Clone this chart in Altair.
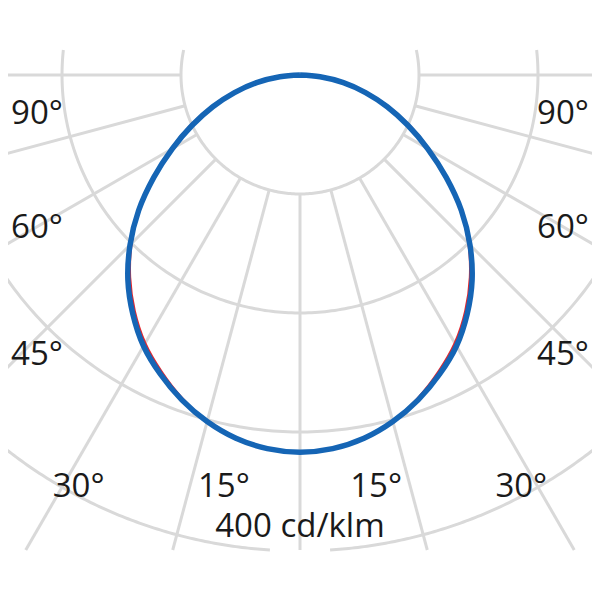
import numpy as np
import pandas as pd
import altair as alt

# ---- data (cd/klm) ----
angles = [0, 5, 10, 15, 20, 25, 30, 35, 40, 45, 50, 55, 60, 65, 70, 75, 80, 85, 90]
c90_270 = [317, 315.2, 310, 301.5, 290.5, 277.5, 263, 245, 225, 202, 177, 150, 124, 100, 78, 57, 37, 17, 0]
c0_180 = [317, 315.2, 310, 301, 289, 275, 260, 242, 222, 200, 176, 151, 126, 103, 81, 60, 39, 18, 0]

ring_values = [100, 200, 300, 400]
spoke_angles = [-90, -75, -60, -45, -30, -15, 0, 15, 30, 45, 60, 75, 90]

label_text = ["90°", "60°", "45°", "30°", "15°", "15°", "30°", "45°", "60°", "90°", "400 cd/klm"]
label_x = [-221, -221, -221, -186, -64, 64, 186, 221, 221, 221, 0]
label_y = [-41, -137, -244, -355, -355, -355, -355, -244, -137, -41, -388]

# ---- geometry helpers ----
Y_TOP = 21.0      # upper clip of the grid
Y_BOT = -399.2    # lower clip of the grid
X_DOM = [-245.4, 245.4]
Y_DOM = [-434.5, 56.3]

rows = []
gid = 0
for r in ring_values:
    tmax = np.degrees(np.arccos(max(-1.0, -Y_TOP / r)))
    tmin = np.degrees(np.arccos(min(1.0, -Y_BOT / r))) if r > -Y_BOT else 0.0
    segs = [(tmin, tmax), (-tmax, -tmin)] if tmin > 0 else [(-tmax, tmax)]
    for a, b in segs:
        ts = np.linspace(a, b, 240)
        for k, t in enumerate(ts):
            rad = np.radians(t)
            rows.append(dict(x=r * np.sin(rad), y=-r * np.cos(rad), g=gid, o=k))
        gid += 1
for t in spoke_angles:
    rad = np.radians(t)
    c = np.cos(rad)
    r_end = min(-Y_BOT / c, 700.0) if c > 1e-9 else 700.0
    for k, r in enumerate([ring_values[0], r_end]):
        rows.append(dict(x=r * np.sin(rad), y=-r * np.cos(rad), g=gid, o=k))
    gid += 1
grid_df = pd.DataFrame(rows)


def curve(values, name):
    pts = []
    full_a = [-a for a in angles[::-1]] + angles[1:]
    full_v = values[::-1] + values[1:]
    for k, (a, v) in enumerate(zip(full_a, full_v)):
        rad = np.radians(a)
        pts.append(dict(x=v * np.sin(rad), y=-v * np.cos(rad), o=k, s=name))
    return pd.DataFrame(pts)


red_df = curve(c0_180, "C0-C180")
blue_df = curve(c90_270, "C90-C270")
lab_df = pd.DataFrame(dict(t=label_text, x=label_x, y=label_y))

xs = alt.Scale(domain=X_DOM, nice=False, zero=False)
ys = alt.Scale(domain=Y_DOM, nice=False, zero=False)

grid = alt.Chart(grid_df).mark_line(clip=True, color="#d9d9d9", strokeWidth=3).encode(
    x=alt.X("x:Q", scale=xs, axis=None),
    y=alt.Y("y:Q", scale=ys, axis=None),
    detail="g:N",
    order="o:Q",
)

red = alt.Chart(red_df).mark_line(
    clip=True, color="#e3262d", strokeWidth=2, interpolate="catmull-rom"
).encode(
    x=alt.X("x:Q", scale=xs, axis=None),
    y=alt.Y("y:Q", scale=ys, axis=None),
    order="o:Q",
)

blue = alt.Chart(blue_df).mark_line(
    clip=True, color="#1565b5", strokeWidth=5.5, interpolate="catmull-rom"
).encode(
    x=alt.X("x:Q", scale=xs, axis=None),
    y=alt.Y("y:Q", scale=ys, axis=None),
    order="o:Q",
)

labels = alt.Chart(lab_df).mark_text(
    font="Open Sans", fontSize=33, color="#1a1a1a", align="center", baseline="alphabetic"
).encode(
    x=alt.X("x:Q", scale=xs, axis=None),
    y=alt.Y("y:Q", scale=ys, axis=None),
    text="t:N",
)

chart = (
    alt.layer(grid, red, blue, labels)
    .properties(width=584, height=584, padding=0, background="white")
    .configure_view(stroke=None)
)

chart.save("out.html", embed_options={"renderer": "svg", "actions": False})
